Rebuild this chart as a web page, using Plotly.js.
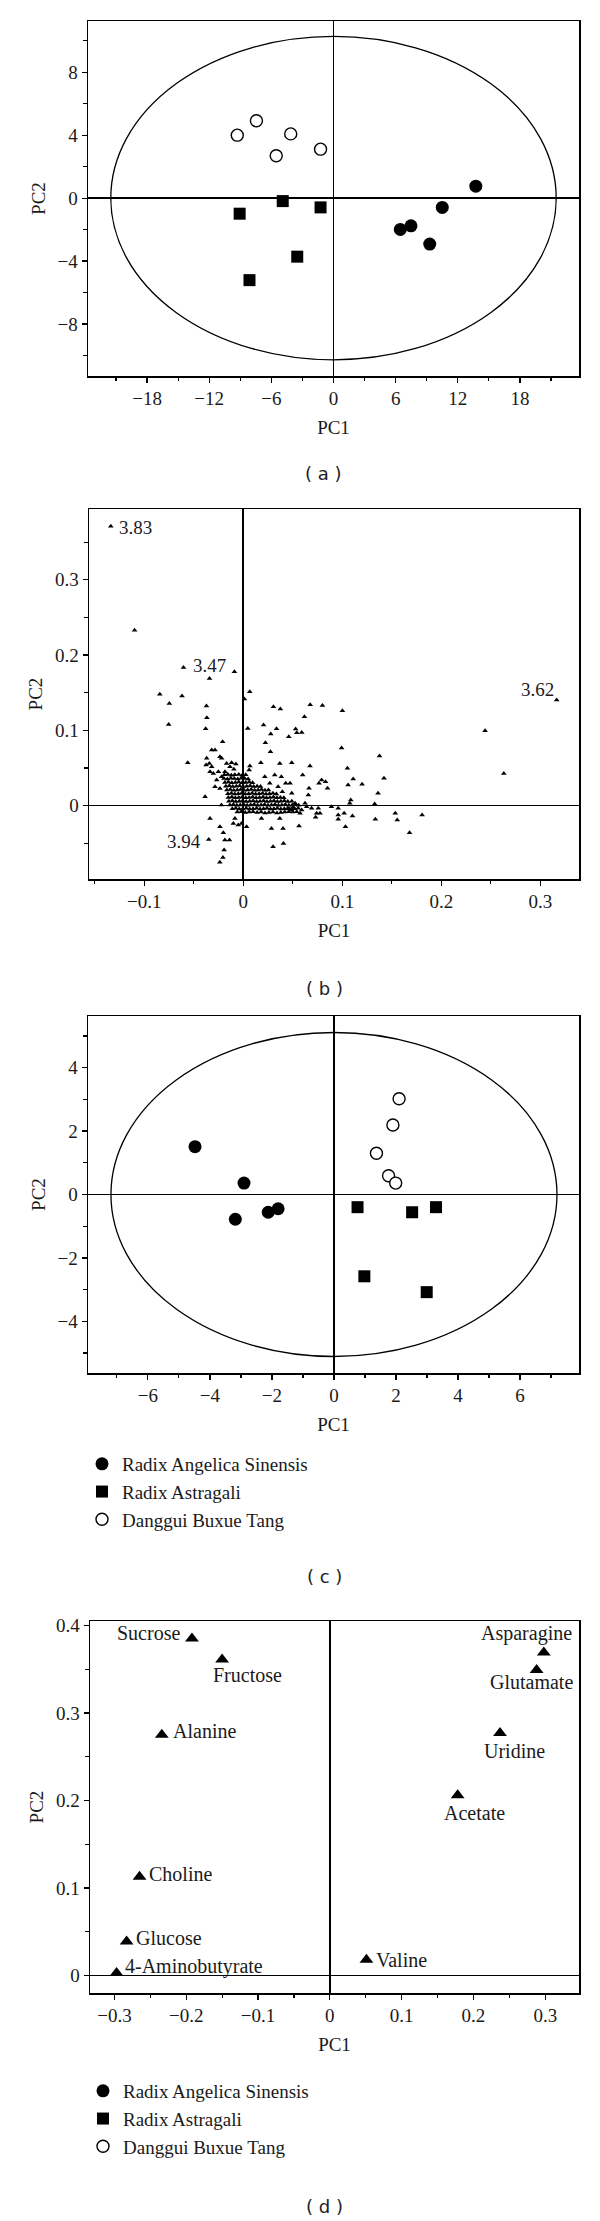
<!DOCTYPE html>
<html><head><meta charset="utf-8">
<script src="https://cdn.plot.ly/plotly-3.0.1.min.js"></script>
<style>html,body{margin:0;padding:0;background:#fff}#chart{width:600px;height:2221px}</style>
</head><body><div id="chart"></div>
<script>
// ---------- DATA ----------
const groupNames = ['Radix Angelica Sinensis', 'Radix Astragali', 'Danggui Buxue Tang'];

// (a) PCA scores
const aRASx = [13.74, 10.5, 7.48, 6.45, 9.29];
const aRASy = [0.76, -0.59, -1.76, -1.99, -2.92];
const aRAx = [-9.06, -4.9, -1.25, -3.5, -8.11];
const aRAy = [-0.99, -0.19, -0.59, -3.72, -5.21];
const aDBTx = [-9.29, -7.44, -5.53, -4.13, -1.25];
const aDBTy = [4.0, 4.91, 2.69, 4.08, 3.11];
const aEllipse = [21.5, 10.27];
const aXTicks = [-18, -12, -6, 0, 6, 12, 18];
const aXTickText = ['\u221218', '\u221212', '\u22126', '0', '6', '12', '18'];
const aYTicks = [-8, -4, 0, 4, 8];
const aYTickText = ['\u22128', '\u22124', '0', '4', '8'];

// (b) loadings (chemical shifts)
const bSpread = [[-0.1337,0.371],[-0.1097,0.233],[-0.0603,0.1836],[-0.0089,0.1779],[-0.034,0.169],[0.0066,0.1513],[-0.0842,0.148],[-0.0618,0.1456],[-0.0746,0.1358],[-0.0753,0.108],[-0.0371,0.1323],[-0.0367,0.1168],[-0.0379,0.1022],[0.0012,0.1416],[0.0046,0.1027],[0.0305,0.1314],[0.0375,0.1283],[0.0205,0.1071],[0.0336,0.1022],[0.0278,0.0951],[0.0676,0.1341],[0.08,0.1332],[0.0618,0.1181],[0.1001,0.1261],[0.0529,0.1018],[0.0541,0.0969],[0.0591,0.0973],[0.046,0.0916],[0.0993,0.0765],[0.2442,0.0996],[0.2631,0.0429],[0.3165,0.1403],[-0.056,0.0571],[-0.0201,-0.0358],[-0.0348,-0.0447],[-0.0139,-0.0456],[-0.0185,-0.0456],[-0.0193,-0.0588],[-0.0205,-0.0686],[-0.0236,-0.0752],[0.0301,-0.0544],[0.0406,-0.05],[0.1376,0.0659]];
const bMid = [[-0.0208,0.085],[0.0224,0.0837],[0.0275,0.0717],[0.0178,0.0571],[0.0369,0.0562],[0.0067,0.0527],[0.006,0.0474],[-0.0369,0.0629],[-0.0318,0.0739],[-0.0285,0.0739],[-0.0235,0.0651],[-0.0218,0.0629],[-0.0375,0.054],[-0.0342,0.0562],[-0.0318,0.0518],[-0.0302,0.0429],[-0.0335,0.0452],[-0.0168,0.0562],[-0.0117,0.0571],[-0.0074,0.0553],[-0.0134,0.0518],[-0.0094,0.0483],[-0.0184,0.0452],[-0.0251,0.0452],[-0.0218,0.0385],[-0.0268,0.0341],[-0.0285,0.0252],[-0.0235,0.023],[-0.0385,0.012],[0.0318,0.0407],[0.0385,0.0385],[0.0429,0.0297],[0.0352,0.0252],[0.0395,0.0186],[0.0218,0.0385],[0.0268,0.0297],[-0.0335,-0.0168],[-0.0235,-0.0279],[-0.01,-0.0235],[-0.0084,-0.0168],[-0.005,-0.0257],[-0.0017,-0.0235],[0.0034,-0.0279],[0.0184,-0.0168],[0.0369,-0.0168],[0.0285,-0.0301],[0.0402,-0.0301],[-0.022,0.001]];
const bTail = [[0.049,0.057],[0.0674,0.0527],[0.1052,0.0497],[0.06,0.0408],[0.111,0.0355],[0.1421,0.0364],[0.0473,0.0297],[0.0765,0.0297],[0.0791,0.0341],[0.0831,0.0319],[0.0851,0.0231],[0.1059,0.0275],[0.12,0.0284],[0.0664,0.0231],[0.049,0.0165],[0.0657,0.0142],[0.1361,0.0165],[0.0524,0.0032],[0.0624,0.0032],[0.064,-0.0013],[0.069,-0.0035],[0.049,-0.0057],[0.059,-0.0057],[0.0574,-0.0101],[0.0758,-0.0035],[0.0775,-0.0101],[0.0891,-0.0013],[0.0959,-0.0035],[0.0959,-0.0124],[0.0959,-0.0181],[0.0741,-0.0101],[0.0731,-0.0154],[0.1019,-0.0101],[0.1086,0.0076],[0.1076,0.0032],[0.1103,-0.0137],[0.1327,0.0023],[0.1334,-0.0181],[0.1535,-0.0101],[0.1555,-0.019],[0.1806,-0.0124],[0.0564,-0.027],[0.1032,-0.0279],[0.1679,-0.0359],[0.0465,-0.0045],[0.0505,-0.002]];
const bCore = [[-0.019,0.041],[-0.0155,0.0415],[-0.012,0.0405],[-0.0085,0.041],[-0.0045,0.0415],[-0.001,0.0405],[0.0025,0.041],
[-0.0195,0.036],[-0.016,0.0355],[-0.0125,0.0365],[-0.009,0.036],[-0.0055,0.0355],[-0.002,0.0365],[0.0015,0.036],[0.005,0.0355],
[-0.0185,0.031],[-0.015,0.0315],[-0.0115,0.0305],[-0.008,0.031],[-0.0045,0.0315],[-0.001,0.0305],[0.0025,0.031],[0.006,0.0315],[0.0095,0.0305],
[-0.0175,0.026],[-0.014,0.0265],[-0.0105,0.0255],[-0.007,0.026],[-0.0035,0.0265],[0.0,0.0255],[0.0035,0.026],[0.007,0.0265],[0.0105,0.0255],[0.014,0.026],[0.0175,0.0255],
[-0.0165,0.021],[-0.013,0.0215],[-0.0095,0.0205],[-0.006,0.021],[-0.0025,0.0215],[0.001,0.0205],[0.0045,0.021],[0.008,0.0215],[0.0115,0.0205],[0.015,0.021],[0.0185,0.0215],[0.022,0.0205],[0.0255,0.021],
[-0.0155,0.016],[-0.012,0.0165],[-0.0085,0.0155],[-0.005,0.016],[-0.0015,0.0165],[0.002,0.0155],[0.0055,0.016],[0.009,0.0165],[0.0125,0.0155],[0.016,0.016],[0.0195,0.0165],[0.023,0.0155],[0.0265,0.016],[0.03,0.0165],[0.0335,0.0155],
[-0.015,0.011],[-0.0115,0.0115],[-0.008,0.0105],[-0.0045,0.011],[-0.001,0.0115],[0.0025,0.0105],[0.006,0.011],[0.0095,0.0115],[0.013,0.0105],[0.0165,0.011],[0.02,0.0115],[0.0235,0.0105],[0.027,0.011],[0.0305,0.0115],[0.034,0.0105],[0.0375,0.011],[0.041,0.0105],
[-0.0145,0.006],[-0.011,0.0065],[-0.0075,0.0055],[-0.004,0.006],[-0.0005,0.0065],[0.003,0.0055],[0.0065,0.006],[0.01,0.0065],[0.0135,0.0055],[0.017,0.006],[0.0205,0.0065],[0.024,0.0055],[0.0275,0.006],[0.031,0.0065],[0.0345,0.0055],[0.038,0.006],[0.0415,0.0065],[0.045,0.0055],[0.049,0.006],
[-0.0135,0.001],[-0.01,0.0015],[-0.0065,0.0005],[-0.003,0.001],[0.0005,0.0015],[0.004,0.0005],[0.0075,0.001],[0.011,0.0015],[0.0145,0.0005],[0.018,0.001],[0.0215,0.0015],[0.025,0.0005],[0.0285,0.001],[0.032,0.0015],[0.0355,0.0005],[0.039,0.001],[0.0425,0.0015],[0.046,0.0005],[0.0495,0.001],[0.053,0.0015],[0.056,0.0005],
[-0.011,-0.004],[-0.0075,-0.0035],[-0.004,-0.0045],[-0.0005,-0.004],[0.003,-0.0035],[0.0065,-0.0045],[0.01,-0.004],[0.0135,-0.0035],[0.017,-0.0045],[0.0205,-0.004],[0.024,-0.0035],[0.0275,-0.0045],[0.031,-0.004],[0.0345,-0.0035],[0.038,-0.0045],[0.0415,-0.004],[0.045,-0.0035],[0.0485,-0.0045],[0.052,-0.004],[0.0555,-0.0035],
[-0.006,-0.0085],[-0.002,-0.008],[0.002,-0.009],[0.006,-0.0085],[0.01,-0.008],[0.014,-0.009],[0.018,-0.0085],[0.022,-0.0095],[0.026,-0.009],[0.03,-0.0085],[0.034,-0.0095],[0.038,-0.009],[0.042,-0.0085],[0.046,-0.008],[0.05,-0.0085],[0.054,-0.008]];
const bLabels = ['3.83', '3.47', '3.94', '3.62'];
const bLabelX = [-0.1337, -0.0089, -0.0348, 0.3165];
const bLabelY = [0.371, 0.1779, -0.0447, 0.1403];
const bXTicks = [-0.1, 0, 0.1, 0.2, 0.3];
const bXTickText = ['\u22120.1', '0', '0.1', '0.2', '0.3'];
const bYTicks = [0, 0.1, 0.2, 0.3];
const bYTickText = ['0', '0.1', '0.2', '0.3'];

// (c) PCA scores
const cRASx = [-4.48, -2.9, -3.18, -2.12, -1.8];
const cRASy = [1.51, 0.36, -0.78, -0.56, -0.45];
const cRAx = [0.76, 2.52, 3.29, 0.98, 2.99];
const cRAy = [-0.4, -0.56, -0.4, -2.58, -3.08];
const cDBTx = [2.1, 1.9, 1.37, 1.76, 1.99];
const cDBTy = [3.02, 2.19, 1.3, 0.59, 0.36];
const cEllipse = [7.19, 5.11];
const cXTicks = [-6, -4, -2, 0, 2, 4, 6];
const cXTickText = ['\u22126', '\u22124', '\u22122', '0', '2', '4', '6'];
const cYTicks = [-4, -2, 0, 2, 4];
const cYTickText = ['\u22124', '\u22122', '0', '2', '4'];

// (d) loadings (metabolites)
const dNames = ['Sucrose', 'Fructose', 'Alanine', 'Choline', 'Glucose', '4-Aminobutyrate', 'Valine', 'Asparagine', 'Glutamate', 'Uridine', 'Acetate'];
const dX = [-0.192, -0.15, -0.234, -0.265, -0.283, -0.297, 0.051, 0.298, 0.288, 0.237, 0.178];
const dY = [0.385, 0.361, 0.275, 0.113, 0.039, 0.003, 0.018, 0.369, 0.349, 0.277, 0.206];
const dXTicks = [-0.3, -0.2, -0.1, 0, 0.1, 0.2, 0.3];
const dXTickText = ['\u22120.3', '\u22120.2', '\u22120.1', '0', '0.1', '0.2', '0.3'];
const dYTicks = [0, 0.1, 0.2, 0.3, 0.4];
const dYTickText = ['0', '0.1', '0.2', '0.3', '0.4'];

const panelLabels = ['( a )', '( b )', '( c )', '( d )'];

// ---------- STYLE / LAYOUT ----------
const W = 600, H = 2221;
const SERIF = 'Liberation Serif, Times New Roman, serif';
const TXT = '#1a1a1a';
function xd(l, r) { return [l / W, r / W]; }
function yd(t, b) { return [1 - b / H, 1 - t / H]; }

function axis(o) {
  return Object.assign({
    showgrid: false, zeroline: true, zerolinecolor: '#000', zerolinewidth: 1.5,
    showline: true, mirror: true, linecolor: '#000', linewidth: 1.5,
    ticks: 'outside', ticklen: 5, tickwidth: 1.2, tickcolor: '#000',
    tickfont: { family: SERIF, size: 19, color: TXT },
    tickmode: 'array', fixedrange: true, automargin: false
  }, o);
}
function minor(d) { return { dtick: d, tick0: 0, ticks: 'outside', ticklen: 3.5, tickwidth: 1.2, tickcolor: '#000' }; }
function xTitle() { return { text: 'PC1', font: { family: SERIF, size: 19, color: TXT }, standoff: 12 }; }
function yTitle() { return { text: 'PC2', font: { family: SERIF, size: 19, color: TXT }, standoff: 7 }; }

const circ = { symbol: 'circle', size: 13, color: '#000', line: { width: 0 } };
const sq = { symbol: 'square', size: 12, color: '#000', line: { width: 0 } };
const open = { symbol: 'circle', size: 12, color: '#fff', line: { color: '#000', width: 1.4 } };

function pts(x, y, xa, ya, marker, name, legend, show) {
  return { type: 'scatter', mode: 'markers', x: x, y: y, xaxis: xa, yaxis: ya, marker: marker,
    name: name, legend: legend, showlegend: !!show, hoverinfo: 'skip', cliponaxis: false };
}

const bAll = bSpread.concat(bMid, bTail, bCore);
const traces = [
  pts(aRASx, aRASy, 'x', 'y', circ, groupNames[0], 'legend', false),
  pts(aRAx, aRAy, 'x', 'y', sq, groupNames[1], 'legend', false),
  pts(aDBTx, aDBTy, 'x', 'y', open, groupNames[2], 'legend', false),
  pts(bAll.map(p => p[0]), bAll.map(p => p[1]), 'x2', 'y2', { symbol: 'triangle-up', size: 5, color: '#000', line: { width: 0 } }, 'loadings', 'legend', false),
  pts(cRASx, cRASy, 'x3', 'y3', circ, groupNames[0], 'legend', true),
  pts(cRAx, cRAy, 'x3', 'y3', sq, groupNames[1], 'legend', true),
  pts(cDBTx, cDBTy, 'x3', 'y3', open, groupNames[2], 'legend', true),
  pts(dX, dY, 'x4', 'y4', { symbol: 'triangle-up', size: 12, color: '#000', line: { width: 0 } }, 'metabolites', 'legend', false),
  pts([null], [null], 'x4', 'y4', circ, groupNames[0], 'legend2', true),
  pts([null], [null], 'x4', 'y4', sq, groupNames[1], 'legend2', true),
  pts([null], [null], 'x4', 'y4', open, groupNames[2], 'legend2', true)
];

const annotations = [];
// panel letters
[[323, 473], [324, 988], [324, 1576], [324, 2206]].forEach((p, i) => {
  annotations.push({ xref: 'paper', yref: 'paper', x: p[0] / W, y: 1 - p[1] / H, text: panelLabels[i],
    showarrow: false, xanchor: 'center', yanchor: 'middle', font: { family: 'DejaVu Sans, sans-serif', size: 18, color: '#222' } });
});
// (b) shift labels
const bLabStyle = [['left', 6, -1], ['right', -6, 6], ['right', -6, -2], ['right', -1, 11]];
bLabels.forEach((t, i) => {
  annotations.push({ xref: 'x2', yref: 'y2', x: bLabelX[i], y: bLabelY[i], text: t, showarrow: false,
    xanchor: bLabStyle[i][0], yanchor: 'middle', xshift: bLabStyle[i][1], yshift: bLabStyle[i][2],
    font: { family: SERIF, size: 19, color: TXT } });
});
// (d) metabolite labels
const dLabStyle = [['right', -10, 5.5], ['center', 25, -15], ['left', 9, 3.4], ['left', 7, 2.5], ['left', 7, 3], ['left', 6, 6.4],
  ['left', 8, 0], ['center', -17, 19.5], ['center', -5, -12], ['center', 14, -18], ['center', 17, -18]];
dNames.forEach((t, i) => {
  annotations.push({ xref: 'x4', yref: 'y4', x: dX[i], y: dY[i], text: t, showarrow: false,
    xanchor: dLabStyle[i][0], yanchor: 'middle', xshift: dLabStyle[i][1], yshift: dLabStyle[i][2],
    font: { family: SERIF, size: 20, color: TXT } });
});

const legFont = { family: SERIF, size: 19, color: TXT };
const layout = {
  width: W, height: H, paper_bgcolor: '#fff', plot_bgcolor: '#fff',
  margin: { l: 0, r: 0, t: 0, b: 0 },
  showlegend: true,
  xaxis: axis({ domain: xd(88, 579), anchor: 'y', range: [-23.7, 23.7], tickvals: aXTicks, ticktext: aXTickText, minor: minor(3), title: xTitle() }),
  yaxis: axis({ domain: yd(21, 376), anchor: 'x', range: [-11.3, 11.25], tickvals: aYTicks, ticktext: aYTickText, minor: minor(2), title: yTitle() }),
  xaxis2: axis({ domain: xd(89, 579), anchor: 'y2', range: [-0.1557, 0.339], tickvals: bXTicks, ticktext: bXTickText, minor: minor(0.05), title: xTitle() }),
  yaxis2: axis({ domain: yd(509, 879), anchor: 'x2', range: [-0.0973, 0.394], tickvals: bYTicks, ticktext: bYTickText, minor: minor(0.05), title: yTitle() }),
  xaxis3: axis({ domain: xd(88, 579), anchor: 'y3', range: [-7.93, 7.9], tickvals: cXTicks, ticktext: cXTickText, minor: minor(1), title: xTitle() }),
  yaxis3: axis({ domain: yd(1016, 1373), anchor: 'x3', range: [-5.63, 5.63], tickvals: cYTicks, ticktext: cYTickText, minor: minor(1), title: yTitle() }),
  xaxis4: axis({ domain: xd(90, 579), anchor: 'y4', range: [-0.334, 0.347], tickvals: dXTicks, ticktext: dXTickText, minor: minor(0.05), title: xTitle() }),
  yaxis4: axis({ domain: yd(1621, 1993), anchor: 'x4', range: [-0.0199, 0.405], tickvals: dYTicks, ticktext: dYTickText, minor: minor(0.05), title: yTitle() }),
  shapes: [
    { type: 'circle', xref: 'x', yref: 'y', x0: -aEllipse[0], x1: aEllipse[0], y0: -aEllipse[1], y1: aEllipse[1], line: { color: '#000', width: 1.3 } },
    { type: 'circle', xref: 'x3', yref: 'y3', x0: -cEllipse[0], x1: cEllipse[0], y0: -cEllipse[1], y1: cEllipse[1], line: { color: '#000', width: 1.3 } }
  ],
  annotations: annotations,
  legend: { x: 82 / W, xanchor: 'left', y: 1 - 1445 / H, yanchor: 'top', font: legFont, bgcolor: 'rgba(0,0,0,0)', borderwidth: 0, itemclick: false, itemdoubleclick: false },
  legend2: { x: 83 / W, xanchor: 'left', y: 1 - 2072 / H, yanchor: 'top', font: legFont, bgcolor: 'rgba(0,0,0,0)', borderwidth: 0, itemclick: false, itemdoubleclick: false }
};

Plotly.newPlot('chart', traces, layout, { staticPlot: true, displayModeBar: false });
</script></body></html>
